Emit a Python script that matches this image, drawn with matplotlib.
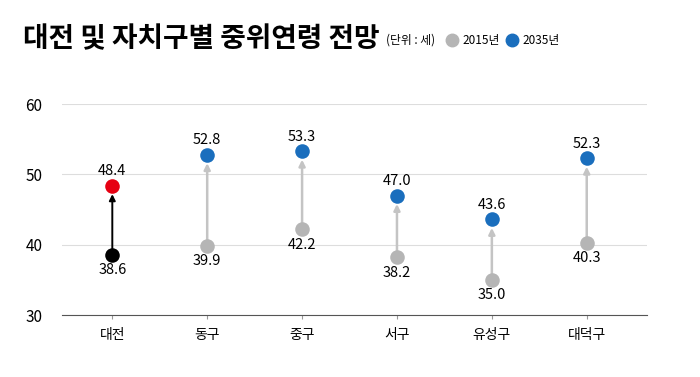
import matplotlib.pyplot as plt

plt.rcParams['font.family'] = ['Noto Sans CJK KR', 'DejaVu Sans']

# data
regions = ['대전', '동구', '중구', '서구', '유성구', '대덕구']
age_2015 = [38.6, 39.9, 42.2, 38.2, 35.0, 40.3]
age_2035 = [48.4, 52.8, 53.3, 47.0, 43.6, 52.3]
yticks = [30, 40, 50, 60]

gray = '#b5b5b5'
blue = '#1a6ebd'
red = '#e60012'

fig = plt.figure(figsize=(7, 3.77), dpi=100)
ax = fig.add_axes([0.0886, 0.164, 0.835, 0.560])

for i, (a, b) in enumerate(zip(age_2015, age_2035)):
    first = i == 0
    lc = 'black' if first else '#c4c4c4'
    ax.annotate('', xy=(i, b - 1.2), xytext=(i, a),
                arrowprops=dict(arrowstyle='-|>', color=lc, lw=1.4 if first else 1.8,
                                mutation_scale=9, shrinkA=0, shrinkB=0))
    ax.scatter(i, a, s=110, color='black' if first else gray, zorder=3, linewidths=0)
    ax.scatter(i, b, s=110, color=red if first else blue, zorder=3, linewidths=0)
    ax.annotate(f'{b:.1f}', (i, b), xytext=(0, 5.5), textcoords='offset points',
                ha='center', va='bottom', fontsize=10.5)
    ax.annotate(f'{a:.1f}', (i, a), xytext=(0, -6), textcoords='offset points',
                ha='center', va='top', fontsize=10.5)

ax.set_ylim(30, 60)
ax.set_xlim(-0.53, 5.63)
ax.set_yticks(yticks)
ax.set_xticks(range(len(regions)))
ax.set_xticklabels(regions, fontsize=10)
ax.tick_params(axis='y', length=0, labelsize=11, pad=14)
ax.tick_params(axis='x', length=3, color='#999999', pad=6)
ax.grid(axis='y', color='#dddddd', lw=0.8)
ax.set_axisbelow(True)
for s in ['top', 'right', 'left']:
    ax.spines[s].set_visible(False)
ax.spines['bottom'].set_color('#555555')

fig.text(0.033, 0.895, '대전 및 자치구별 중위연령 전망', fontsize=20, fontweight='bold', va='center')
fig.text(0.551, 0.893, '(단위 : 세)', fontsize=8.5, va='center')
fig.add_artist(plt.Line2D([0.646], [0.895], marker='o', markersize=9, color=gray, transform=fig.transFigure))
fig.text(0.661, 0.893, '2015년', fontsize=8.5, va='center')
fig.add_artist(plt.Line2D([0.732], [0.895], marker='o', markersize=9, color=blue, transform=fig.transFigure))
fig.text(0.746, 0.893, '2035년', fontsize=8.5, va='center')

fig.savefig('out.png', dpi=100)
